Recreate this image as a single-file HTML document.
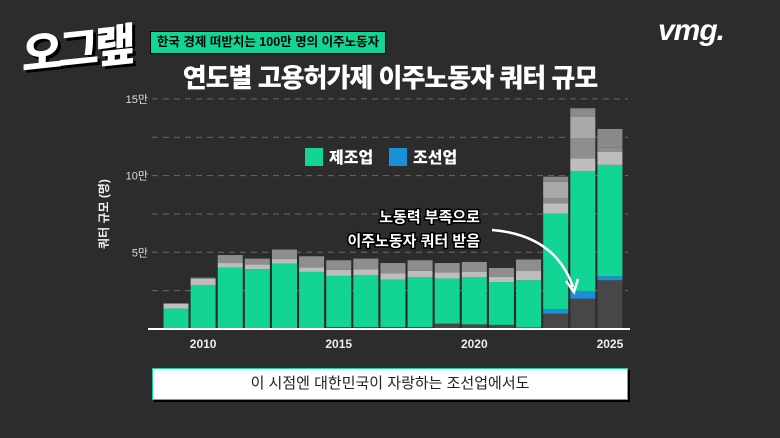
<!DOCTYPE html>
<html><head><meta charset="utf-8">
<style>
body{margin:0;width:780px;height:438px;overflow:hidden;background:#2c2c2c;font-family:"Liberation Sans","Noto Sans CJK KR",sans-serif;}
#wrap{position:relative;width:780px;height:438px;}
.abs{position:absolute;}
</style></head>
<body>
<div id="wrap">
<div class="abs" style="left:22px;top:14px;font-size:44px;font-weight:900;color:#fff;letter-spacing:-4px;transform:skewY(-6deg);text-shadow:3px 3px 0 #000;font-family:'Noto Sans CJK KR',sans-serif;">오그랲</div>
<div class="abs" style="left:150px;top:31px;width:234px;height:21px;background:#12d494;border:1px solid #000;color:#000;font-size:12.5px;font-weight:700;line-height:21px;text-align:center;">한국 경제 떠받치는 100만 명의 이주노동자</div>
<div class="abs" style="left:658px;top:14px;font-size:30px;font-weight:900;font-style:italic;color:#fff;letter-spacing:-1px;">vmg.</div>
<div class="abs" style="left:150px;top:58px;width:480px;text-align:center;font-size:26px;font-weight:900;color:#fff;letter-spacing:-1px;">연도별 고용허가제 이주노동자 쿼터 규모</div>
<svg class="abs" style="left:0;top:0" width="780" height="438" id="chart"></svg>
<div class="abs" style="left:152px;top:368px;width:474px;height:30px;background:#fff;border:1px solid #12d494;box-shadow:2px 2px 0 #000;color:#222;font-size:15px;line-height:30px;text-align:center;">이 시점엔 대한민국이 자랑하는 조선업에서도</div>
</div>
<script>
const years=[2009,2010,2011,2012,2013,2014,2015,2016,2017,2018,2019,2020,2021,2022,2023,2024,2025];
const darkVals=[0,0,0,0,0,0,1.3,1.3,1.3,1.3,3.5,3,2.7,1,10,19.8,31.8];
const blueVals=[0,0,0,0,0,0,0,0,0,0,0,0,0,0,3,5,2.6];
const greenVals=[13.3,28.7,40,39,42.6,37.2,33.3,33.7,30.9,32.6,29.4,30.9,27.9,30.8,62.2,78.2,72.6];
const lightVals=[3,4,3,3,3,3,4,4,4,4,4,3.5,3.5,6,6.8,8.3,8.6];
const grayVals=[0.5,0.8,5.2,3.9,6.2,7.2,6.2,6.9,6.8,6.9,6.1,6.3,5.7,7.5,3.2,13,2.9];
const midVals=[0,0,0,0,0,0,0,0,0,0,0,0,0,0,10.8,13.9,0];
const topVals=[0,0,0,0,0,0,0,0,0,0,0,0,0,0,3.3,5.7,11.9];
const yTicks=[50,100,150];
const yTickLabels=["5만","10만","15만"];
const xTickYears=[2010,2015,2020,2025];
const ns="http://www.w3.org/2000/svg";
const svg=document.getElementById('chart');
const y0=329,pxPerK=76.7/50,bw=25,pitch=27.12,x0=176;
function yScale(v){return y0-v*pxPerK;}
function xScale(yr){return x0+(yr-2009)*pitch;}
function mk(tag,attrs){const e=document.createElementNS(ns,tag);for(const k in attrs)e.setAttribute(k,attrs[k]);svg.appendChild(e);return e;}
// grid
for(let v=25;v<=150;v+=25){
  const g=mk('line',{x1:152,x2:628,y1:yScale(v),y2:yScale(v),stroke:'#6a6a6a','stroke-width':1,'stroke-dasharray':'6,5'});
  
  
}
yTicks.forEach((v,i)=>{
  const t=mk('text',{x:148,y:yScale(v)+4,'text-anchor':'end',fill:'#ddd','font-size':11});
  t.textContent=yTickLabels[i];
  
  
});
const yt=mk('text',{x:0,y:0,transform:'translate(108,214) rotate(-90)','text-anchor':'middle',fill:'#eee','font-size':12,'font-weight':700});
yt.textContent='쿼터 규모 (명)';


const series=[[darkVals,'#474747'],[blueVals,'#1b90d8'],[greenVals,'#12d494'],[lightVals,'#bdbdbd'],[grayVals,'#8e8e8e'],[midVals,'#a9a9a9'],[topVals,'#8a8a8a']];
years.forEach((yr,i)=>{
  let cum=0;
  series.forEach(([arr,col],si)=>{
    const v=arr[i]; if(v<=0)return;
    const r=mk('rect',{x:xScale(yr)-bw/2,y:yScale(cum+v),width:bw,height:v*pxPerK,fill:col});
    
    
    cum+=v;
  });
});
const ax=mk('line',{x1:148,x2:630,y1:y0,y2:y0,stroke:'#fff','stroke-width':2});


xTickYears.forEach(yr=>{
  const t=mk('text',{x:xScale(yr),y:348,'text-anchor':'middle',fill:'#eee','font-size':12,'font-weight':700});
  t.textContent=String(yr);
  
  
});
// legend
const lg=[[305,'#12d494','제조업'],[389,'#1b90d8','조선업']];
lg.forEach(([x,c,l])=>{
  const r=mk('rect',{x:x,y:148,width:18,height:18,fill:c});
  
  
  const t=mk('text',{x:x+24,y:163,fill:'#fff','font-size':16,'font-weight':900});
  t.textContent=l;
  
  
});
// annotation
[['노동력 부족으로',222],['이주노동자 쿼터 받음',246]].forEach(([s,y])=>{
  const t=mk('text',{x:480,y:y,'text-anchor':'end',fill:'#fff','font-size':15,'font-weight':700,stroke:'#000','stroke-width':3,'paint-order':'stroke'});
  t.textContent=s;
  
  
});
const p=mk('path',{d:'M492 230 Q555 235 573 287',fill:'none',stroke:'#fff','stroke-width':2.5});


const h=mk('path',{d:'M566 281 L574 292 L578 279',fill:'none',stroke:'#fff','stroke-width':2.5});


</script>
</body></html>
